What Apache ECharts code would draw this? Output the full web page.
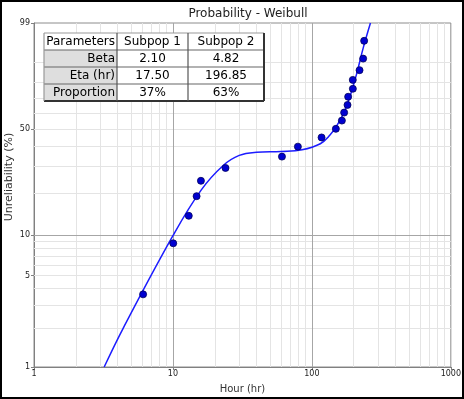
<!DOCTYPE html>
<html>
<head>
<meta charset="utf-8">
<script src="https://cdn.jsdelivr.net/npm/echarts@6/dist/echarts.min.js"></script>
<style>
html, body { margin: 0; padding: 0; background: #fff; }
#main { width: 464px; height: 399px; }
</style>
</head>
<body>
<div id="main"></div>
<script>
// failure times (hr) and their unreliability (%) as plotted
let failHours = [6.1, 10.05, 13.0, 14.8, 15.9, 23.9, 60.9, 79.3, 117.4, 148.8, 164.4, 170.7, 180.5, 182.4, 197.2, 197.0, 220.3, 233.9, 237.8];
let failPct = [3.6, 8.7, 13.8, 19.0, 24.2, 29.4, 34.7, 39.9, 45.1, 50.3, 55.5, 60.7, 65.7, 71.0, 76.0, 81.2, 86.3, 91.3, 96.5];

// points
let lineHours = [3.2, 4.4, 10, 16, 23, 30, 40, 60, 85, 115, 135, 150, 170, 190, 210, 235, 264];
let linePct = [1.0, 2.0, 9.9, 21, 30.5, 35.3, 36.9, 37.3, 38.2, 41.5, 46.5, 51.9, 60.5, 72.5, 84.5, 95, 99];

// tick labels / grid lines
let yTicks = [1, 5, 10, 50, 99];
let yMinor = [2, 3, 4, 5, 6, 7, 8, 9, 20, 30, 40, 50, 60, 70, 80, 90];
let yMajor = [10];
let xMinor = [2, 3, 4, 5, 6, 7, 8, 9, 20, 30, 40, 50, 60, 70, 80, 90, 200, 300, 400, 500, 600, 700, 800, 900];
let xMajor = [10, 100];

// parameter table
let tableHead = ['Parameters', 'Subpop 1', 'Subpop 2'];
let tableRows = [
    ['Beta', '2.10', '4.82'],
    ['Eta (hr)', '17.50', '196.85'],
    ['Proportion', '37%', '63%']
];

// weibull probability scale
function wb(p) {
    return Math.log(-Math.log(1 - p / 100));
}

let font = '"DejaVu Sans", Verdana, sans-serif';

// table drawn with graphic elements
let colEdges = [44, 117, 188, 264];
let tTop = 33, rowH = 17;
let tBottom = tTop + rowH * (tableRows.length + 1);
let tableEls = [];
tableEls.push({ type: 'rect', z: 100, shape: { x: colEdges[0], y: tTop, width: colEdges[3] - colEdges[0], height: tBottom - tTop }, style: { fill: '#fff' } });
for (let r = 1; r <= tableRows.length; r++) {
    tableEls.push({ type: 'rect', z: 101, shape: { x: colEdges[0], y: tTop + r * rowH, width: colEdges[1] - colEdges[0], height: rowH }, style: { fill: '#dedede' } });
}
for (let r = 0; r <= tableRows.length + 1; r++) {
    let y = tTop + r * rowH;
    let last = r === tableRows.length + 1;
    tableEls.push({ type: 'line', z: 102, shape: { x1: colEdges[0], y1: y, x2: colEdges[3], y2: y }, style: { stroke: last ? '#333' : (r === 0 ? '#999' : '#666'), lineWidth: last ? 2 : 1.2 } });
}
colEdges.forEach(function (x, i) {
    let last = i === colEdges.length - 1;
    tableEls.push({ type: 'line', z: 102, shape: { x1: x, y1: tTop, x2: x, y2: tBottom }, style: { stroke: last ? '#333' : (i === 0 ? '#999' : '#555'), lineWidth: last ? 2 : 1.2 } });
});
[tableHead].concat(tableRows).forEach(function (row, r) {
    let y = tTop + r * rowH + rowH / 2 + 0.5;
    row.forEach(function (txt, c) {
        let x = c === 0 ? colEdges[1] - 2 : (colEdges[c] + colEdges[c + 1]) / 2;
        tableEls.push({
            type: 'text', z: 103, x: x, y: y,
            style: { text: txt, font: '12px ' + font, fill: '#000', textAlign: c === 0 ? 'right' : 'center', textVerticalAlign: 'middle' }
        });
    });
});

// grid lines as a lines series so they go through the axes
let yLo = wb(1), yHi = wb(99);
let gridLines = [];
xMinor.forEach(v => gridLines.push({ coords: [[v, yLo], [v, yHi]] }));
yMinor.forEach(p => gridLines.push({ coords: [[1, wb(p)], [1000, wb(p)]] }));
xMajor.forEach(v => gridLines.push({ coords: [[v, yLo], [v, yHi]], lineStyle: { color: '#a6a6a6' } }));
yMajor.forEach(p => gridLines.push({ coords: [[1, wb(p)], [1000, wb(p)]], lineStyle: { color: '#a6a6a6' } }));

let chart = echarts.init(document.getElementById('main'));
option = {
    animation: false,
    backgroundColor: '#fff',
    title: {
        text: 'Probability - Weibull',
        left: 243,
        textAlign: 'center',
        top: 3,
        textStyle: { fontFamily: font, fontSize: 12, fontWeight: 'normal', color: '#222' }
    },
    grid: { left: 34, right: 12, top: 23, bottom: 30, show: true, borderColor: '#8c8c8c', borderWidth: 1 },
    xAxis: {
        type: 'log',
        logBase: 10,
        min: 1,
        max: 1000,
        name: 'Hour (hr)',
        nameLocation: 'middle',
        nameGap: 17,
        nameTextStyle: { fontFamily: font, fontSize: 10, color: '#333' },
        axisLine: { onZero: false, lineStyle: { color: '#808080' } },
        axisTick: { length: 3, lineStyle: { color: '#808080' } },
        axisLabel: { fontFamily: font, fontSize: 8, color: '#222', margin: 3, formatter: v => String(v) },
        splitLine: { show: false }
    },
    yAxis: {
        type: 'value',
        min: yLo,
        max: yHi,
        axisLine: { show: true, onZero: false, lineStyle: { color: '#808080' } },
        axisTick: { show: true, length: 3, customValues: yTicks.map(wb), lineStyle: { color: '#808080' } },
        axisLabel: {
            customValues: yTicks.map(wb),
            fontFamily: font, fontSize: 8, color: '#222', margin: 4,
            formatter: function (v) {
                return String(Math.round(100 * (1 - Math.exp(-Math.exp(v)))));
            }
        },
        splitLine: { show: false }
    },
    graphic: [
        {
            type: 'text', x: 9, y: 177, rotation: Math.PI / 2,
            style: { text: 'Unreliability (%)', font: '11px ' + font, fill: '#333', textAlign: 'center', textVerticalAlign: 'middle' }
        },
        { type: 'group', children: tableEls },
        { type: 'rect', z: 110, shape: { x: 1, y: 1, width: 462, height: 397 }, style: { fill: 'none', stroke: '#000', lineWidth: 2 } }
    ],
    series: [
        {
            type: 'lines',
            coordinateSystem: 'cartesian2d',
            z: 1,
            silent: true,
            lineStyle: { color: '#e4e4e4', width: 1, opacity: 1 },
            data: gridLines
        },
        {
            name: 'fit',
            type: 'line',
            z: 3,
            smooth: 0.4,
            symbol: 'none',
            lineStyle: { color: '#1c1cff', width: 1.5 },
            data: lineHours.map((h, i) => [h, wb(linePct[i])])
        },
        {
            name: 'data',
            type: 'scatter',
            z: 4,
            symbolSize: 7,
            itemStyle: { color: '#0000d0', borderColor: '#00005a', borderWidth: 0.8, opacity: 1 },
            data: failHours.map((h, i) => [h, wb(failPct[i])])
        }
    ]
};
chart.setOption(option);
</script>
</body>
</html>
